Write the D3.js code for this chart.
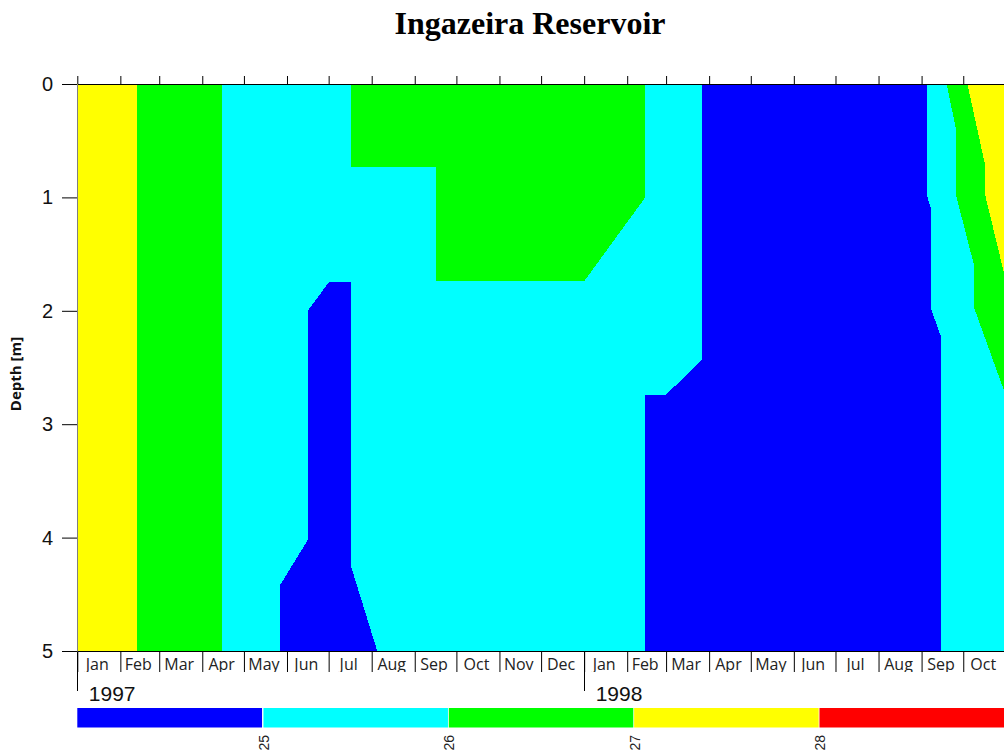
<!DOCTYPE html>
<html>
<head>
<meta charset="utf-8">
<script src="https://cdn.jsdelivr.net/npm/d3@7"></script>
<style>
  body { margin: 0; background: #fff; }
  svg { display: block; }
</style>
</head>
<body>
<svg id="chart" width="1004" height="753"></svg>
<script>
// ---------------- DATA ----------------
const chartTitle = "Ingazeira Reservoir";
const yAxisLabel = "Depth [m]";
const xDomain = ["1997-01-01", "1998-11-01"];
const depthDomain = [0, 5];
const depthTicks = [0, 1, 2, 3, 4, 5];
const monthNames = ["Jan","Feb","Mar","Apr","May","Jun","Jul","Aug","Sep","Oct","Nov","Dec"];
const yearTicks = ["1997-01-01", "1998-01-01"];
const yearLabels = ["1997", "1998"];

// temperature classes (°C)
const colorBreaks = [25, 26, 27, 28];
const colorRange = ["#0000ff", "#00ffff", "#00ff00", "#ffff00", "#ff0000"];
const colorbarDomain = [24, 29];
const colorbarClasses = [24, 25, 26, 27, 28];
const colorbarTickValues = [25, 26, 27, 28];

// filled-contour regions: [date, depth] vertices, class temperature
const cyanBackground = [["1997-01-01",0],["1998-11-01",0],["1998-11-01",5],["1997-01-01",5]];
const yellowJanFeb97 = [["1997-01-01",0],["1997-02-13",0],["1997-02-13",5],["1997-01-01",5]];
const greenFebApr97 = [["1997-02-13",0],["1997-04-15",0],["1997-04-15",5],["1997-02-13",5]];
const blueJunJul97 = [["1997-07-01",1.75],["1997-07-17",1.75],["1997-07-17",4.25],["1997-08-05",5],
                      ["1997-05-27",5],["1997-05-27",4.42],["1997-06-16",4.02],["1997-06-16",2.0]];
const greenJul97Feb98 = [["1997-07-17",0],["1998-02-14",0],["1998-02-14",1.0],["1998-01-01",1.74],
                         ["1997-09-16",1.74],["1997-09-16",0.73],["1997-07-17",0.73]];
const blueFebSep98 = [["1998-02-14",5],["1998-02-14",2.74],["1998-03-01",2.74],["1998-03-27",2.43],
                      ["1998-03-27",0],["1998-09-05",0],["1998-09-05",0.99],["1998-09-08",1.11],
                      ["1998-09-08",1.99],["1998-09-15",2.23],["1998-09-15",5]];
const greenSepOct98 = [["1998-09-19",0],["1998-09-26",0.41],["1998-09-26",0.99],["1998-10-09",1.61],
                       ["1998-10-09",1.98],["1998-11-01",2.76],["1998-11-01",0]];
const yellowOct98 = [["1998-10-04",0],["1998-10-17",0.73],["1998-10-17",0.99],["1998-11-01",1.75],["1998-11-01",0]];

const regions = [
  { t: 25.5, pts: cyanBackground },
  { t: 27.5, pts: yellowJanFeb97 },
  { t: 26.5, pts: greenFebApr97 },
  { t: 24.5, pts: blueJunJul97 },
  { t: 26.5, pts: greenJul97Feb98 },
  { t: 24.5, pts: blueFebSep98 },
  { t: 26.5, pts: greenSepOct98 },
  { t: 27.5, pts: yellowOct98 }
];

// ---------------- CHART ----------------
const W = 1004, H = 753;
const svg = d3.select("#chart");
const parse = d3.utcParse("%Y-%m-%d");

const x = d3.scaleUtc().domain(xDomain.map(parse)).range([77.3, 1006.3]);
const y = d3.scaleLinear().domain(depthDomain).range([84, 651]);
const color = d3.scaleThreshold().domain(colorBreaks).range(colorRange);

const defs = svg.append("defs");
defs.append("clipPath").attr("id", "plotClip")
  .append("rect").attr("x", 77).attr("y", y(0)).attr("width", W - 77).attr("height", y(5) - y(0));
defs.append("clipPath").attr("id", "labelClip")
  .append("rect").attr("x", 0).attr("y", 651).attr("width", W).attr("height", 21);

// title
svg.append("text")
  .attr("x", 530).attr("y", 34)
  .attr("text-anchor", "middle")
  .style("font-family", "'Liberation Serif', 'Times New Roman', serif")
  .style("font-weight", "bold").style("font-size", "32px")
  .text(chartTitle);

// regions
const line = d3.line().x(d => x(parse(d[0]))).y(d => y(d[1]));
svg.append("g").attr("clip-path", "url(#plotClip)")
  .selectAll("path").data(regions).join("path")
  .attr("d", d => line(d.pts) + "Z")
  .attr("fill", d => color(d.t))
  .attr("shape-rendering", "crispEdges");

const monthStarts = d3.utcMonths(parse(xDomain[0]), parse(xDomain[1]));

// top axis (ticks only)
svg.append("g").attr("transform", "translate(0,84)")
  .call(d3.axisTop(x).tickValues(monthStarts).tickSize(8).tickSizeOuter(0).tickFormat(""));

// bottom axis (month ticks)
svg.append("g").attr("transform", "translate(0,651)")
  .call(d3.axisBottom(x).tickValues(monthStarts).tickSize(21).tickSizeOuter(0).tickFormat(""));

// year ticks
svg.append("g").selectAll("line").data(yearTicks).join("line")
  .attr("x1", d => Math.round(x(parse(d))) + 0.5).attr("x2", d => Math.round(x(parse(d))) + 0.5)
  .attr("y1", 651).attr("y2", 691).attr("stroke", "#000");

svg.append("g").selectAll("text").data(yearTicks).join("text")
  .attr("x", d => x(parse(d)) + 11.5).attr("y", 701)
  .style("font-family", "'Liberation Sans', Arial, sans-serif").style("font-size", "21px")
  .attr("fill", "#111")
  .text((d, i) => yearLabels[i]);

// month labels
svg.append("g").attr("clip-path", "url(#labelClip)")
  .selectAll("text").data(monthStarts).join("text")
  .attr("x", d => (x(d) + x(d3.utcMonth.offset(d, 1))) / 2 - 1.5)
  .attr("y", 670)
  .attr("text-anchor", "middle")
  .style("font-family", "'Open Sans', sans-serif").style("font-size", "16px")
  .attr("fill", "#222")
  .text(d => monthNames[d.getUTCMonth()]);

// left axis
const leftAxis = svg.append("g").attr("transform", "translate(77,0)")
  .call(d3.axisLeft(y).tickValues(depthTicks).tickSize(15).tickSizeOuter(0).tickPadding(9)
        .tickFormat(d3.format("d")));
leftAxis.select(".domain").attr("stroke", "#7f7f7f");
leftAxis.selectAll("text")
  .style("font-family", "'Liberation Sans', Arial, sans-serif").style("font-size", "20px")
  .attr("fill", "#111");

// y label
svg.append("text")
  .attr("transform", "translate(21,374) rotate(-90)")
  .attr("text-anchor", "middle")
  .style("font-family", "'Open Sans', sans-serif").style("font-weight", "bold").style("font-size", "15px")
  .attr("fill", "#111")
  .text(yAxisLabel);

// colorbar
const cb = d3.scaleLinear().domain(colorbarDomain).range([77.3, 1004]);
svg.append("g").selectAll("rect").data(colorbarClasses).join("rect")
  .attr("x", d => d === colorbarDomain[0] ? cb(d) : cb(d) + 0.8)
  .attr("y", 708)
  .attr("width", d => cb(d + 1) - cb(d) - (d === colorbarDomain[0] ? 0.6 : 0.8))
  .attr("height", 19.5)
  .attr("fill", d => color(d + 0.5));

svg.append("g").selectAll("text").data(colorbarTickValues).join("text")
  .attr("transform", d => `translate(${cb(d) + 6.5},735) rotate(-90)`)
  .attr("text-anchor", "end")
  .style("font-family", "'Liberation Sans', Arial, sans-serif").style("font-size", "14px")
  .attr("fill", "#222")
  .text(d => d);
</script>
</body>
</html>
